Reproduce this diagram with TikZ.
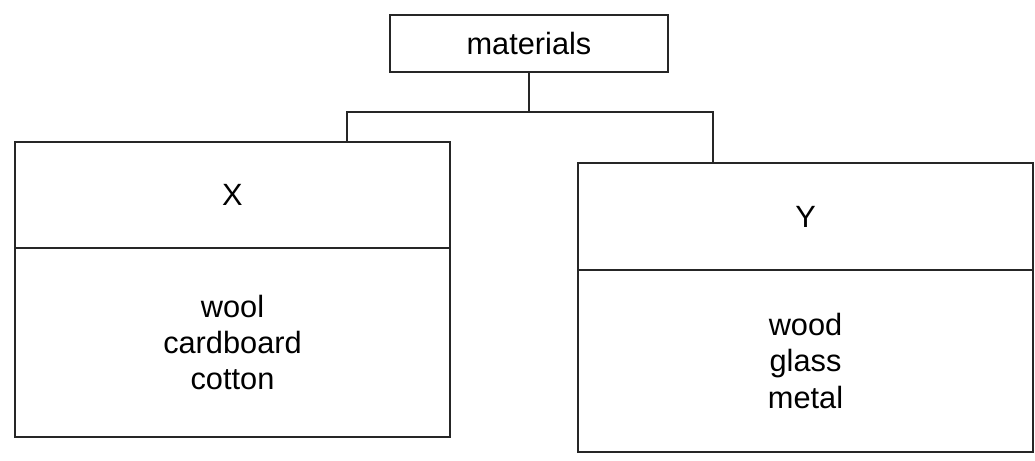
\documentclass[tikz,border=0pt]{standalone}
\usepackage{fontspec}
\setmainfont{Liberation Sans}
\usetikzlibrary{positioning}
\begin{document}
\begin{tikzpicture}
[box/.style={draw=black!85,line width=1.2pt,rectangle,align=center,inner sep=0pt,outer sep=0pt,font=\fontsize{17.5}{20.5}\selectfont},
head/.style={box,minimum height=2.12cm},
body/.style={box},
link/.style={draw=black!85,line width=1.2pt}]

%fix the page size
\useasboundingbox (0,0) rectangle (20.7,9.22);

%draw the top box
\node[box,minimum width=5.56cm,minimum height=1.14cm] (mat) at (10.58,8.35) {materials};

%draw the left box
\node[head,minimum width=8.7cm] (xhead) at (4.65,5.32) {X};
\node[body,minimum width=8.7cm,minimum height=3.78cm,below=0pt of xhead] (xbody) {wool\\cardboard\\cotton};

%draw the right box
\node[head,minimum width=9.1cm,minimum height=2.14cm] (yhead) at (16.11,4.89) {Y};
\node[body,minimum width=9.1cm,minimum height=3.64cm,below=0pt of yhead] (ybody) {wood\\glass\\metal};

%draw the connectors
\coordinate (lj) at (6.94,6.98);
\coordinate (rj) at (14.26,6.98);
\draw[link] (mat.south) -- (mat.south |- lj);
\draw[link] (lj |- xhead.north) -- (lj) -- (rj) -- (rj |- yhead.north);

\end{tikzpicture}
\end{document}
